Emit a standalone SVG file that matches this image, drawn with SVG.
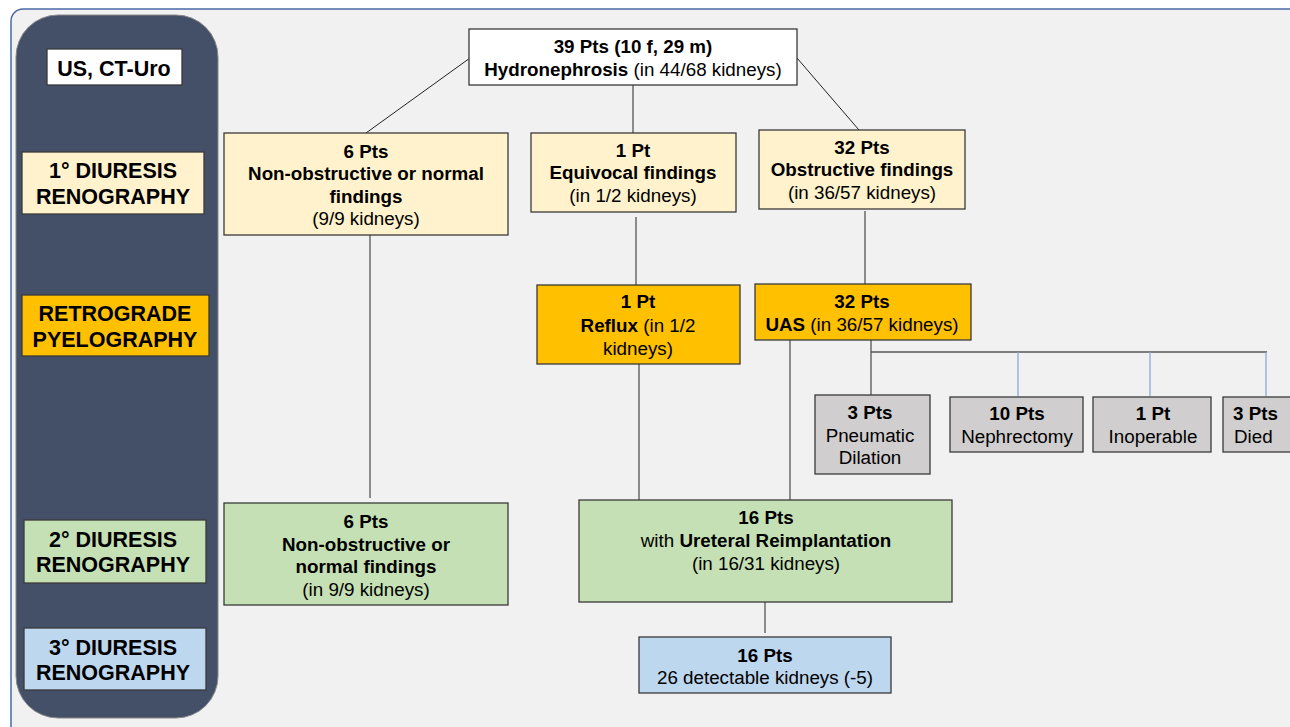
<svg xmlns="http://www.w3.org/2000/svg" width="1290" height="727" viewBox="0 0 1290 727">
<style>
text{font-family:"Liberation Sans",Arial,sans-serif;font-size:18.8px;fill:#000;text-anchor:middle}
.b{font-weight:bold}
.lab{font-size:21.5px;font-weight:bold}
.n{stroke:#3a3a3a;stroke-width:1.3}
.c{stroke:#555;stroke-width:1.3;fill:none}
.k{stroke:#222;stroke-width:1;fill:none}
.bl{stroke:#8eaadb;stroke-width:1.3;fill:none}
</style>
<rect x="0" y="0" width="1290" height="727" fill="#fff"/>
<rect x="11" y="9" width="1300" height="730" rx="12" fill="#f1f1f1" stroke="#4a68a8" stroke-width="1.5"/>
<rect x="16" y="15" width="202" height="703" rx="42" fill="#435068" stroke="#888" stroke-width="1"/>

<g id="connectors">
<line class="k" x1="470" y1="58" x2="366" y2="133"/>
<line class="c" x1="633" y1="85" x2="633" y2="133"/>
<line class="k" x1="797" y1="58" x2="859" y2="130"/>
<line class="c" x1="370" y1="235" x2="370" y2="498"/>
<line class="c" x1="636" y1="217" x2="636" y2="285"/>
<line class="c" x1="865" y1="211" x2="865" y2="284"/>
<line class="c" x1="639" y1="364" x2="639" y2="500"/>
<line class="c" x1="790" y1="340" x2="790" y2="500"/>
<polyline class="c" points="871,340 871,395"/>
<line class="c" x1="871" y1="352" x2="1267" y2="352"/>
<line class="bl" x1="1018" y1="352" x2="1018" y2="396"/>
<line class="bl" x1="1150" y1="352" x2="1150" y2="396"/>
<line class="bl" x1="1266" y1="352" x2="1266" y2="396"/>
<line class="c" x1="765" y1="602" x2="765" y2="633"/>
</g>

<g id="lab-us"><rect class="n" x="47" y="49" width="135" height="36" fill="#fff"/><text class="lab" x="114" y="76">US, CT-Uro</text></g>
<g id="lab-1"><rect class="n" x="22" y="152" width="182" height="62" fill="#fff2cc"/><text class="lab" x="113" y="178">1° DIURESIS</text><text class="lab" x="113" y="204">RENOGRAPHY</text></g>
<g id="lab-retro"><rect class="n" x="22" y="295" width="187" height="61" fill="#ffc000"/><text class="lab" x="115" y="321">RETROGRADE</text><text class="lab" x="115" y="347">PYELOGRAPHY</text></g>
<g id="lab-2"><rect class="n" x="24" y="520" width="182" height="63" fill="#c5e0b4"/><text class="lab" x="113" y="547">2° DIURESIS</text><text class="lab" x="113" y="572">RENOGRAPHY</text></g>
<g id="lab-3"><rect class="n" x="24" y="628" width="182" height="62" fill="#bdd7ee"/><text class="lab" x="113" y="655">3° DIURESIS</text><text class="lab" x="113" y="680">RENOGRAPHY</text></g>

<g id="n-top"><rect class="n" x="469" y="29" width="328" height="56" fill="#fff"/><text class="b" x="633" y="53">39 Pts (10 f, 29 m)</text><text x="633" y="76"><tspan class="b">Hydronephrosis</tspan> (in 44/68 kidneys)</text></g>

<g id="n-nonobs"><rect class="n" x="224" y="133" width="284" height="102" fill="#fff2cc"/><text class="b" x="366" y="158">6 Pts</text><text class="b" x="366" y="180">Non-obstructive or normal</text><text class="b" x="366" y="203">findings</text><text x="366" y="225">(9/9 kidneys)</text></g>

<g id="n-equiv"><rect class="n" x="531" y="133" width="205" height="79" fill="#fff2cc"/><text class="b" x="633" y="157">1 Pt</text><text class="b" x="633" y="179">Equivocal findings</text><text x="633" y="202">(in 1/2 kidneys)</text></g>

<g id="n-obs"><rect class="n" x="759" y="130" width="206" height="79" fill="#fff2cc"/><text class="b" x="862" y="154">32 Pts</text><text class="b" x="862" y="176">Obstructive findings</text><text x="862" y="199">(in 36/57 kidneys)</text></g>

<g id="n-reflux"><rect class="n" x="537" y="285" width="203" height="79" fill="#ffc000"/><text class="b" x="638" y="308">1 Pt</text><text x="638" y="332"><tspan class="b">Reflux</tspan> (in 1/2</text><text x="638" y="355">kidneys)</text></g>

<g id="n-uas"><rect class="n" x="755" y="284" width="216" height="56" fill="#ffc000"/><text class="b" x="862" y="308">32 Pts</text><text x="862" y="331"><tspan class="b">UAS</tspan> (in 36/57 kidneys)</text></g>

<g id="n-pneu"><rect class="n" x="815" y="395" width="115" height="79" fill="#d0cece"/><text class="b" x="870" y="419">3 Pts</text><text x="870" y="442">Pneumatic</text><text x="870" y="464">Dilation</text></g>
<g id="n-neph"><rect class="n" x="950" y="397" width="133" height="55" fill="#d0cece"/><text class="b" x="1017" y="420">10 Pts</text><text x="1017" y="443">Nephrectomy</text></g>
<g id="n-inop"><rect class="n" x="1093" y="397" width="118" height="55" fill="#d0cece"/><text class="b" x="1153" y="420">1 Pt</text><text x="1153" y="443">Inoperable</text></g>
<g id="n-died"><rect class="n" x="1223" y="397" width="80" height="55" fill="#d0cece"/><text class="b" x="1233" y="420" style="text-anchor:start">3 Pts</text><text x="1234" y="443" style="text-anchor:start">Died</text></g>

<g id="n-nonobs2"><rect class="n" x="224" y="503" width="284" height="102" fill="#c5e0b4"/><text class="b" x="366" y="528">6 Pts</text><text class="b" x="366" y="551">Non-obstructive or</text><text class="b" x="366" y="573">normal findings</text><text x="366" y="596">(in 9/9 kidneys)</text></g>

<g id="n-reimpl"><rect class="n" x="579" y="500" width="373" height="102" fill="#c5e0b4"/><text class="b" x="766" y="524">16 Pts</text><text x="766" y="547">with <tspan class="b">Ureteral Reimplantation</tspan></text><text x="766" y="570">(in 16/31 kidneys)</text></g>

<g id="n-final"><rect class="n" x="639" y="637" width="252" height="56" fill="#bdd7ee"/><text class="b" x="765" y="662">16 Pts</text><text x="765" y="684">26 detectable kidneys (-5)</text></g>
</svg>
